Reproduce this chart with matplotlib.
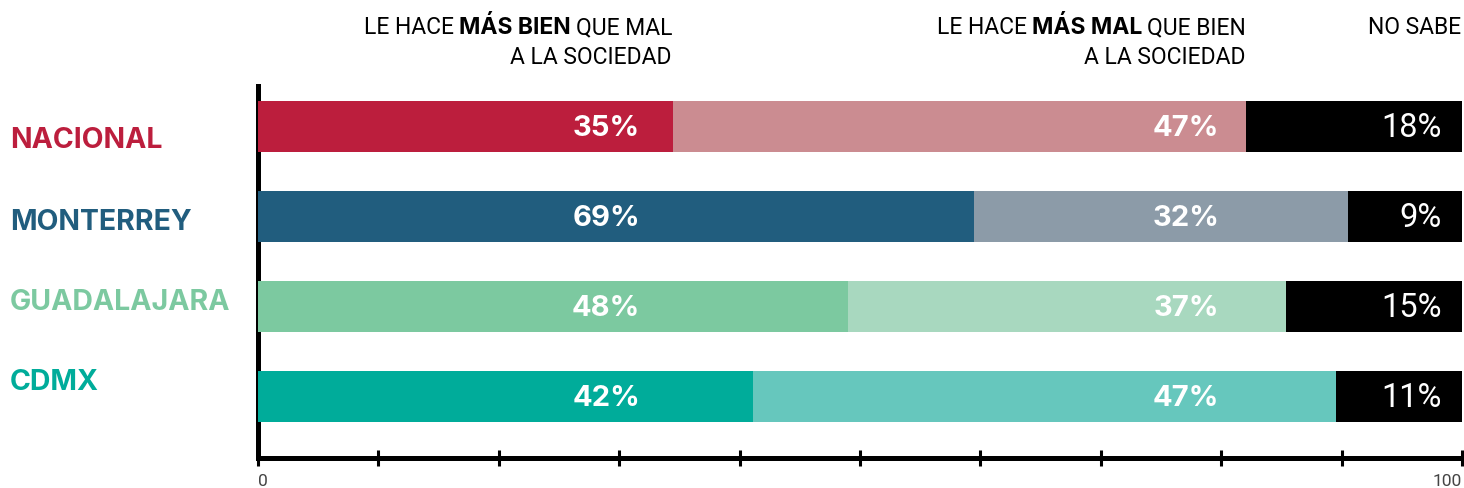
import matplotlib
matplotlib.use("Agg")
import matplotlib.pyplot as plt
import numpy as np

# ---- data ----
categories = ["NACIONAL", "MONTERREY", "GUADALAJARA", "CDMX"]
bien = [34.5, 59.5, 49.0, 41.1]
mal = [47.6, 31.0, 36.4, 48.4]
no_sabe = [17.9, 9.5, 14.6, 10.5]
bien_labels = ["35%", "69%", "48%", "42%"]
mal_labels = ["47%", "32%", "37%", "47%"]
ns_labels = ["18%", "9%", "15%", "11%"]
dark_colors = ["#BC1E3D", "#215D7E", "#7CC9A0", "#00AC9A"]
light_colors = ["#CB8C91", "#8C9BA8", "#A8D8BF", "#66C7BD"]
ns_color = "#000000"

LIGHT = ["Roboto", "DejaVu Sans"]
BOLD = ["Inter", "Roboto", "DejaVu Sans"]
plt.rcParams["font.family"] = LIGHT

fig = plt.figure(figsize=(14.64, 4.88), dpi=100)
W, H = 1464, 488
x0_px, x1_px = 258, 1462
ytop_px, ybot_px = 86, 458
ax = fig.add_axes([x0_px / W, 1 - ybot_px / H, (x1_px - x0_px) / W, (ybot_px - ytop_px) / H])

ax.set_xlim(0, 100)
ax.set_ylim((ybot_px - 126.5) / 90, -(126.5 - ytop_px) / 90)

y = np.arange(len(categories))
bh = 51 / 90
left2 = np.array(bien)
left3 = left2 + np.array(mal)
ax.barh(y, bien, height=bh, color=dark_colors, zorder=3, linewidth=0)
ax.barh(y, mal, left=left2, height=bh, color=light_colors, zorder=3, linewidth=0)
ax.barh(y, no_sabe, left=left3, height=bh, color=ns_color, zorder=3, linewidth=0)

def px2x(px):
    return (px - x0_px) / (x1_px - x0_px) * 100

col1, col2, col3 = px2x(640), px2x(1219), px2x(1442)
for i in range(len(categories)):
    ax.text(col1, y[i] + 0.02, bien_labels[i], ha="right", va="center", color="white",
            fontsize=21, fontweight="bold", family=BOLD, zorder=4)
    ax.text(col2, y[i] + 0.02, mal_labels[i], ha="right", va="center", color="white",
            fontsize=21, fontweight="bold", family=BOLD, zorder=4)
    ax.text(col3, y[i] + 0.02, ns_labels[i], ha="right", va="center", color="white",
            fontsize=23.5, fontweight="normal", family=LIGHT, zorder=4)

cat_y_px = [140.5, 222, 302, 383]
for i, c in enumerate(categories):
    fig.text(10 / W, 1 - cat_y_px[i] / H, c, ha="left", va="center", color=dark_colors[i],
             fontsize=20.5, fontweight="bold", family=BOLD)

for s in ["top", "right"]:
    ax.spines[s].set_visible(False)
for s in ["left", "bottom"]:
    ax.spines[s].set_linewidth(3.6)
    ax.spines[s].set_color("black")
ax.set_yticks([])
ax.set_xticks(np.arange(0, 101, 10))
ax.set_xticklabels([])
ax.tick_params(axis="x", direction="inout", length=12, width=2.2, color="black")
ax.text(0, -0.042, "0", transform=ax.get_xaxis_transform(), ha="left", va="top",
        fontsize=12.5, color="#444444")
ax.text(100, -0.042, "100", transform=ax.get_xaxis_transform(), ha="right", va="top",
        fontsize=12.5, color="#444444")

renderer = fig.canvas.get_renderer()
HS = 16.5

def rich_right(x_right_px, y_base_px, parts):
    x = x_right_px
    for txt, wt in reversed(parts):
        fam = BOLD if wt == "bold" else LIGHT
        t = fig.text(x / W, 1 - y_base_px / H, txt, ha="right", va="baseline",
                     fontsize=HS, fontweight=wt, family=fam, color="black")
        bb = t.get_window_extent(renderer)
        x = x - bb.width - 5

rich_right(672, 34, [("LE HACE", "normal"), ("MÁS BIEN", "bold"), ("QUE MAL", "normal")])
rich_right(672, 64, [("A LA SOCIEDAD", "normal")])
rich_right(1246, 34, [("LE HACE", "normal"), ("MÁS MAL", "bold"), ("QUE BIEN", "normal")])
rich_right(1246, 64, [("A LA SOCIEDAD", "normal")])
rich_right(1461, 34, [("NO SABE", "normal")])

fig.savefig("out.png", dpi=100)
